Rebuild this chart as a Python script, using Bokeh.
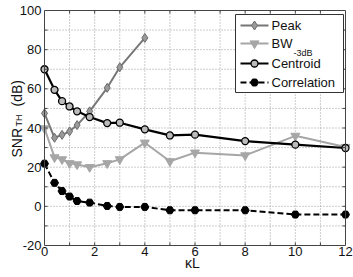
import math
from bokeh.plotting import figure
from bokeh.models import Range1d
from bokeh.core.properties import value
from bokeh.embed import file_html
from bokeh.resources import INLINE

# kappa*L sample positions
kl = [0, 0.4, 0.7, 1.0, 1.3, 1.8, 2.5, 3.0, 4.0, 5.0, 6.0, 8.0, 10.0, 12.0]
kl_peak = [0, 0.4, 0.7, 1.0, 1.3, 1.8, 2.5, 3.0, 4.0]

# threshold SNR (dB) per estimator
snr_peak = [47.5, 35.0, 36.5, 38.3, 41.5, 48.5, 60.5, 71.0, 86.0]
snr_bw = [39.8, 25.0, 24.0, 22.0, 21.4, 20.0, 22.0, 24.0, 32.5, 23.0, 27.4, 26.0, 36.0, 30.3]
snr_centroid = [70.0, 59.5, 53.7, 51.0, 48.5, 45.6, 42.5, 42.7, 39.3, 36.2, 36.6, 33.3, 31.5, 29.8]
snr_corr = [21.8, 12.0, 7.8, 5.0, 2.7, 1.9, 0.2, -0.3, -0.3, -2.0, -2.0, -2.0, -4.2, -4.2]

series_names = ["Peak", "BW", "Centroid", "Correlation"]

# axes: limits, labelled ticks and grid positions
x_lim = (0, 12)
y_lim = (-20, 100)
x_ticks = [0, 2, 4, 6, 8, 10, 12]
y_ticks = [-20, 0, 20, 40, 60, 80, 100]
x_grid = [1, 2, 3, 4, 5, 6, 7, 8, 9, 10, 11]
y_grid = [-10, 0, 10, 20, 30, 40, 50, 60, 70, 80, 90]

FONT = "Liberation Sans"
TXT = "#111111"
EDGE = "#444444"
W, H = 353, 277
# axes box on the page, in pixels
BOX_L, BOX_R, BOX_T, BOX_B = 44, 345, 10, 245

SX = (BOX_R - BOX_L) / (x_lim[1] - x_lim[0])     # px per x unit
SY = (BOX_B - BOX_T) / (y_lim[1] - y_lim[0])     # px per y unit

def dx(px):
    """page pixel column -> data x"""
    return x_lim[0] + (px - BOX_L) / SX

def dy(py):
    """page pixel row -> data y"""
    return y_lim[0] + (BOX_B - py) / SY

# the plotting frame covers the whole page; axes are drawn by hand
p = figure(width=W, height=H, output_backend="svg", toolbar_location=None,
           x_range=Range1d(dx(0), dx(W)), y_range=Range1d(dy(H), dy(0)),
           min_border=0, x_axis_type=None, y_axis_type=None)
p.outline_line_color = None
p.grid.visible = False
p.background_fill_color = "white"
p.border_fill_color = "white"

# dotted grid
grid_style = dict(line_color="#9a9a9a", line_width=1, line_dash="1 2")
p.segment(x0=x_grid, y0=[y_lim[0]] * len(x_grid), x1=x_grid,
          y1=[y_lim[1]] * len(x_grid), **grid_style)
p.segment(x0=[x_lim[0]] * len(y_grid), y0=y_grid, x1=[x_lim[1]] * len(y_grid),
          y1=y_grid, **grid_style)

# data series
styles = [
    dict(line=dict(line_color="#777777", line_width=2),
         marker=dict(marker="diamond", size=9, fill_color="#9a9a9a",
                     line_color="#6a6a6a", line_width=1)),
    dict(line=dict(line_color="#a6a6a6", line_width=2),
         marker=dict(marker="inverted_triangle", size=9, fill_color="#a6a6a6",
                     line_color="#a6a6a6")),
    dict(line=dict(line_color="black", line_width=2.2),
         marker=dict(marker="circle", size=7, fill_color="#bbbbbb",
                     line_color="black", line_width=1.3)),
    dict(line=dict(line_color="black", line_width=2, line_dash="6 3"),
         marker=dict(marker="hex", size=8, fill_color="black",
                     line_color="black")),
]
series = [(kl_peak, snr_peak), (kl, snr_bw), (kl, snr_centroid), (kl, snr_corr)]
for (xs, ys), st in zip(series, styles):
    p.line(xs, ys, **st["line"])
    p.scatter(xs, ys, **st["marker"])

# axes box with inward ticks on all four sides
p.quad(left=x_lim[0], right=x_lim[1], bottom=y_lim[0], top=y_lim[1],
       fill_color=None, line_color=EDGE, line_width=1)
TICK = 3
p.segment(x0=x_grid, y0=[y_lim[0]] * len(x_grid), x1=x_grid,
          y1=[y_lim[0] + TICK / SY] * len(x_grid), line_color=EDGE)
p.segment(x0=x_grid, y0=[y_lim[1]] * len(x_grid), x1=x_grid,
          y1=[y_lim[1] - TICK / SY] * len(x_grid), line_color=EDGE)
p.segment(x0=[x_lim[0]] * len(y_grid), y0=y_grid,
          x1=[x_lim[0] + TICK / SX] * len(y_grid), y1=y_grid, line_color=EDGE)
p.segment(x0=[x_lim[1]] * len(y_grid), y0=y_grid,
          x1=[x_lim[1] - TICK / SX] * len(y_grid), y1=y_grid, line_color=EDGE)

# tick labels
p.text(x=x_ticks, y=[dy(BOX_B + 1)] * len(x_ticks), text=[str(v) for v in x_ticks],
       text_font=value(FONT), text_font_size="13px", text_color=TXT,
       text_align="center", text_baseline="top")
p.text(x=[dx(BOX_L - 3)] * len(y_ticks), y=y_ticks, text=[str(v) for v in y_ticks],
       text_font=value(FONT), text_font_size="13px", text_color=TXT,
       text_align="right", text_baseline="middle")

# axis titles
p.text(x=[dx(192)], y=[dy(262)], text=["\u03baL"], text_font=value(FONT),
       text_font_size="14px", text_color=TXT, text_align="center",
       text_baseline="middle")
up = math.pi / 2
title_parts = [("SNR", "14px", 16.0, 157), ("TH", "9px", 18.0, 126),
               ("(dB)", "14px", 16.0, 106)]
for txt, size, bx, by in title_parts:
    p.text(x=[dx(bx)], y=[dy(by)], text=[txt], text_font=value(FONT),
           text_font_size=size, text_color=TXT, angle=up,
           text_baseline="alphabetic", text_align="left")

# legend
LG_L, LG_R, LG_T, LG_B = 235, 343, 14, 92
row_y = [25, 43, 63, 82]
p.quad(left=dx(LG_L), right=dx(LG_R), top=dy(LG_T), bottom=dy(LG_B),
       fill_color="white", line_color="#333333", line_width=1)
for name, ry, st in zip(series_names, row_y, styles):
    p.line([dx(240), dx(268)], [dy(ry), dy(ry)], **st["line"])
    p.scatter([dx(254)], [dy(ry)], **st["marker"])
    p.text([dx(271)], [dy(ry)], text=[name], text_font=value(FONT),
           text_font_size="13px", text_color=TXT, text_baseline="middle")
p.text([dx(293)], [dy(row_y[1] + 9)], text=["-3dB"], text_font=value(FONT),
       text_font_size="9px", text_color=TXT, text_baseline="alphabetic")

open("out.html", "w").write(file_html(p, INLINE))
